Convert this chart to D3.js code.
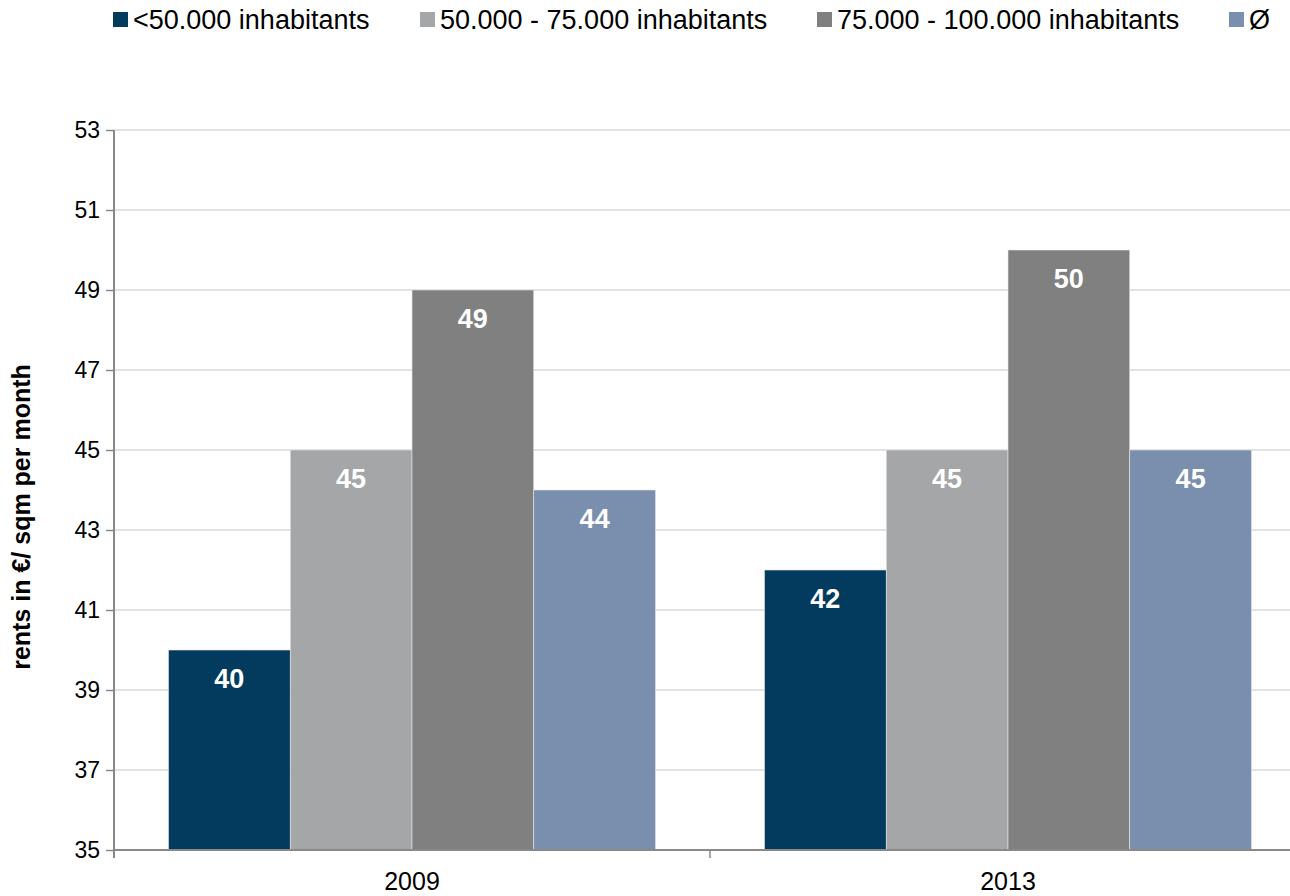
<!DOCTYPE html>
<html>
<head>
<meta charset="utf-8">
<script src="https://cdn.jsdelivr.net/npm/d3@7"></script>
<style>
  body { margin: 0; background: #fff; }
  svg { font-family: "Liberation Sans", Arial, sans-serif; }
</style>
</head>
<body>
<svg id="chart" width="1290" height="896"></svg>
<script>
// data
var years = ['2009', '2013'];
var seriesNames = ['<50.000 inhabitants', '50.000 - 75.000 inhabitants', '75.000 - 100.000 inhabitants', 'Ø'];
var seriesColors = ['#023b5e', '#a5a6a8', '#808080', '#7a8fae'];
var values2009 = [40, 45, 49, 44];
var values2013 = [42, 45, 50, 45];
var yTicks = [35, 37, 39, 41, 43, 45, 47, 49, 51, 53];

var rows = [values2009, values2013];

var svg = d3.select('#chart');
var plotLeft = 114, plotRight = 1306, plotTop = 130, plotBottom = 850;

var x0 = d3.scaleBand().domain(years).range([plotLeft, plotRight]).paddingInner(0).paddingOuter(0);
var x1 = d3.scaleBand().domain(d3.range(seriesNames.length))
    .range([0, x0.bandwidth()]).paddingOuter(0.4475).paddingInner(0);
var y = d3.scaleLinear().domain([35, 53]).range([plotBottom, plotTop]);

//gridlines
svg.append('g')
    .selectAll('line')
    .data(yTicks.slice(1))
    .enter().append('line')
    .attr('x1', plotLeft).attr('x2', plotRight)
    .attr('y1', function(d) {return y(d);})
    .attr('y2', function(d) {return y(d);})
    .attr('stroke', '#d9d9d9')
    .attr('stroke-width', 1.5);

//bars
var groups = svg.append('g')
    .selectAll('g')
    .data(rows)
    .enter().append('g')
    .attr('transform', function(d, i) {return 'translate(' + x0(years[i]) + ',0)';});

groups.selectAll('rect')
    .data(function(d) {return d;})
    .enter().append('rect')
    .attr('x', function(d, j) {return x1(j);})
    .attr('width', x1.bandwidth())
    .attr('y', function(d) {return y(d);})
    .attr('height', function(d) {return y(35) - y(d);})
    .attr('fill', function(d, j) {return seriesColors[j];})
    .attr('stroke', '#e6e6e6')
    .attr('stroke-width', 0.6);

groups.selectAll('text')
    .data(function(d) {return d;})
    .enter().append('text')
    .attr('x', function(d, j) {return x1(j) + x1.bandwidth() / 2;})
    .attr('y', function(d) {return y(d) + 38;})
    .attr('text-anchor', 'middle')
    .attr('fill', '#fff')
    .attr('font-weight', 'bold')
    .attr('font-size', 27)
    .text(function(d) {return d;});

//y axis
var yAxis = d3.axisLeft(y).tickValues(yTicks).tickSize(8).tickPadding(6).tickFormat(d3.format('d'));
var yg = svg.append('g')
    .attr('transform', 'translate(' + plotLeft + ',0)')
    .call(yAxis);
yg.select('.domain').attr('stroke', '#898989').attr('stroke-width', 2)
    .attr('d', 'M0,' + plotTop + 'V' + (plotBottom + 8));
yg.selectAll('.tick line').attr('stroke', '#898989').attr('stroke-width', 1.5);
yg.selectAll('.tick text').attr('font-size', 23).attr('fill', '#000')
    .attr('font-family', '"Liberation Sans", Arial, sans-serif');

//x axis
svg.append('line')
    .attr('x1', plotLeft).attr('x2', plotRight)
    .attr('y1', plotBottom).attr('y2', plotBottom)
    .attr('stroke', '#898989').attr('stroke-width', 2);
svg.append('g')
    .selectAll('line')
    .data([plotLeft, x0('2013'), plotRight])
    .enter().append('line')
    .attr('x1', function(d) {return d;}).attr('x2', function(d) {return d;})
    .attr('y1', plotBottom).attr('y2', plotBottom + 8)
    .attr('stroke', '#898989').attr('stroke-width', 1.5);
svg.append('g')
    .selectAll('text')
    .data(years)
    .enter().append('text')
    .attr('x', function(d) {return x0(d) + x0.bandwidth() / 2;})
    .attr('y', 890)
    .attr('text-anchor', 'middle')
    .attr('font-size', 25)
    .text(function(d) {return d;});

//y axis title
svg.append('text')
    .attr('transform', 'translate(30,517) rotate(-90)')
    .attr('text-anchor', 'middle')
    .attr('font-weight', 'bold')
    .attr('font-size', 25)
    .text('rents in €/ sqm per month');

//legend
var legendX = [113, 420, 817, 1229];
var legend = svg.append('g')
    .selectAll('g')
    .data(seriesNames)
    .enter().append('g')
    .attr('transform', function(d, i) {return 'translate(' + legendX[i] + ',12)';});
legend.append('rect')
    .attr('width', 15).attr('height', 15)
    .attr('fill', function(d, i) {return seriesColors[i];});
legend.append('text')
    .attr('x', 20).attr('y', 17)
    .attr('font-size', 27)
    .text(function(d) {return d;});
</script>
</body>
</html>
